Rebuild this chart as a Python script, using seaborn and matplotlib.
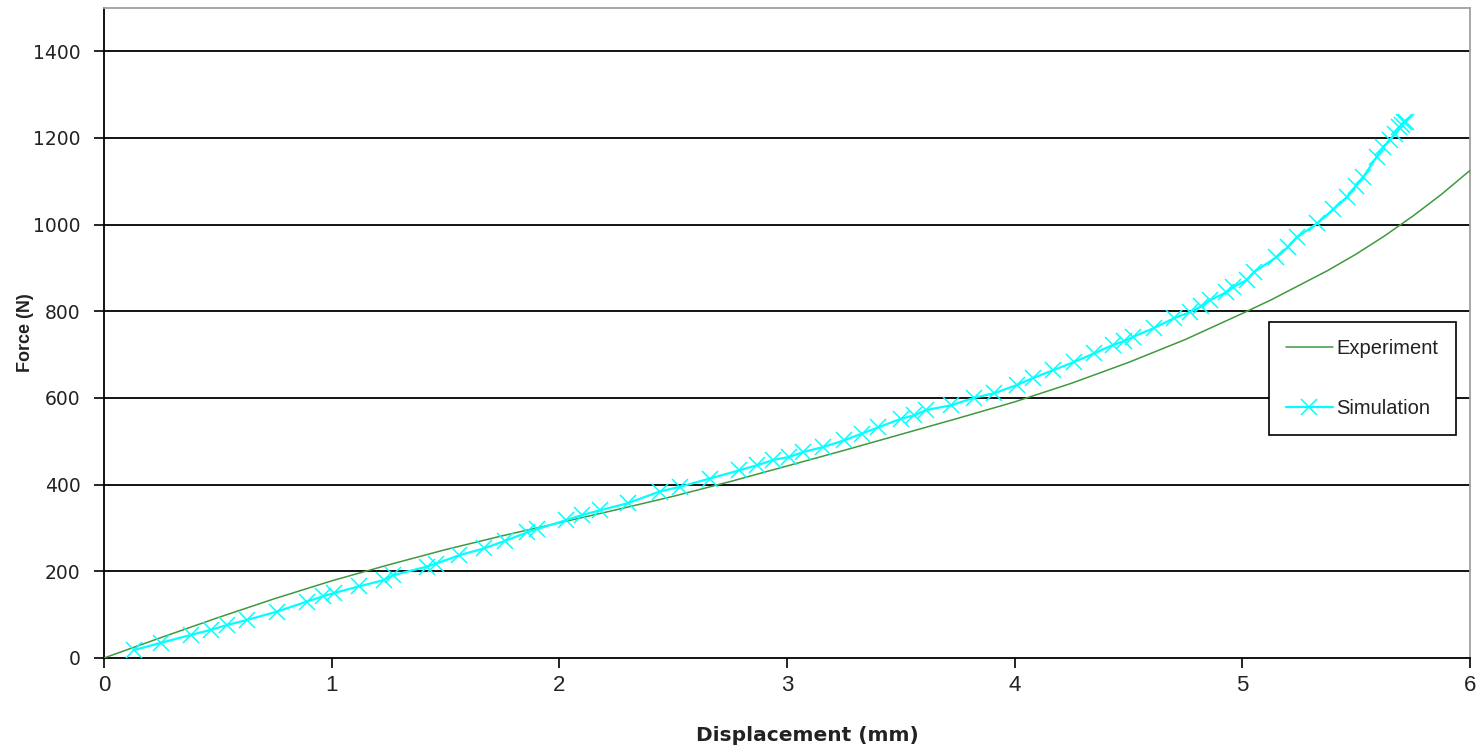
import matplotlib
matplotlib.use("Agg")
import matplotlib.pyplot as plt
import seaborn as sns
import pandas as pd

# Measured force-displacement curve
exp_disp = [0.0, 0.25, 0.5, 0.75, 1.0, 1.25, 1.5, 1.75, 2.0, 2.25, 2.5, 2.75,
            3.0, 3.25, 3.5, 3.75, 4.0, 4.25, 4.5, 4.75, 5.0, 5.125, 5.25, 5.375,
            5.5, 5.625, 5.75, 5.875, 6.0]
exp_force = [0, 47, 93, 137, 178, 215, 250, 282, 312, 342, 373, 407,
             443, 479, 516, 553, 591, 634, 682, 735, 795, 826, 860, 894,
             932, 974, 1020, 1070, 1125]

# Simulated force-displacement samples
sim_disp = [0.13, 0.25, 0.38, 0.47, 0.54, 0.63, 0.76, 0.89, 0.96, 1.01, 1.12, 1.23,
            1.27, 1.42, 1.46, 1.56, 1.67, 1.76, 1.86, 1.90, 2.03, 2.10, 2.18, 2.30,
            2.44, 2.53, 2.66, 2.79, 2.87, 2.94, 3.01, 3.07, 3.16, 3.25, 3.33, 3.40,
            3.50, 3.56, 3.61, 3.72, 3.82, 3.91, 4.01, 4.08, 4.17, 4.26, 4.35, 4.43,
            4.48, 4.52, 4.61, 4.70, 4.77, 4.82, 4.86, 4.93, 4.96, 5.02, 5.05, 5.15,
            5.20, 5.24, 5.33, 5.40, 5.46, 5.50, 5.53, 5.59, 5.62, 5.65, 5.67, 5.69,
            5.70, 5.71, 5.72]
sim_force = [18, 35, 53, 65, 76, 88, 107, 130, 142, 150, 165, 180,
             191, 211, 218, 237, 253, 270, 290, 297, 318, 330, 341, 357,
             384, 395, 414, 433, 445, 457, 464, 475, 487, 502, 518, 532,
             552, 560, 572, 583, 600, 611, 630, 646, 664, 683, 703, 722,
             731, 741, 761, 784, 798, 812, 826, 844, 856, 872, 890, 925,
             948, 971, 1003, 1035, 1064, 1090, 1109, 1156, 1180, 1195, 1210, 1225,
             1230, 1236, 1238]

x_ticks = [0, 1, 2, 3, 4, 5, 6]
y_ticks = [0, 200, 400, 600, 800, 1000, 1200, 1400]

sns.set_theme(style="white")
plt.rcParams["font.family"] = ["Liberation Sans", "DejaVu Sans"]

fig = plt.figure(figsize=(14.8, 7.53), dpi=100)
ax = fig.add_axes([0.0703, 0.1262, 0.9229, 0.8632])

exp_df = pd.DataFrame({"disp": exp_disp, "force": exp_force})
sim_df = pd.DataFrame({"disp": sim_disp, "force": sim_force})

# horizontal grid lines
for yv in y_ticks[1:]:
    ax.axhline(yv, color="black", lw=1.3, zorder=1)

sns.lineplot(data=exp_df, x="disp", y="force", ax=ax, color="#3f9a3f",
             lw=1.1, label="Experiment", zorder=3, estimator=None)
sns.lineplot(data=sim_df, x="disp", y="force", ax=ax, color="#00ffff",
             lw=1.6, marker="x", markersize=11, markeredgewidth=1.1,
             markeredgecolor="#00ffff", label="Simulation", zorder=4,
             estimator=None)

ax.set_xlim(0, 6)
ax.set_ylim(0, 1500)
ax.set_xticks(x_ticks)
ax.set_yticks(y_ticks)
ax.tick_params(axis="both", which="both", direction="out", length=7,
               width=1.2, color="black", labelcolor="#222222",
               left=True, bottom=True)
ax.tick_params(axis="x", pad=5)
ax.tick_params(axis="y", pad=10)
for lbl in ax.get_xticklabels():
    lbl.set_fontfamily("Liberation Sans")
    lbl.set_fontsize(16)
for lbl in ax.get_yticklabels():
    lbl.set_fontfamily("DejaVu Sans")
    lbl.set_fontsize(13.5)

for side in ("left", "bottom"):
    ax.spines[side].set_color("black")
    ax.spines[side].set_linewidth(1.3)
for side in ("top", "right"):
    ax.spines[side].set_color("#a0a0a0")
    ax.spines[side].set_linewidth(1.3)

ax.set_xlabel("Displacement (mm)", fontsize=14.5, fontweight="bold",
              family="DejaVu Sans", color="#222222")
ax.xaxis.set_label_coords(0.515, -0.105)
ax.set_ylabel("Force (N)", fontsize=13, fontweight="bold", color="#222222")
ax.yaxis.set_label_coords(-0.051, 0.5)

leg = ax.legend(loc="upper left", bbox_to_anchor=(0.853, 0.517),
                frameon=True, fancybox=False, prop={"size": 14.5},
                handlelength=2.3, labelspacing=2.05, borderpad=0.85,
                handletextpad=0.2, borderaxespad=0)
leg.get_frame().set_edgecolor("black")
leg.get_frame().set_linewidth(1.2)
leg.get_frame().set_alpha(1)
for t in leg.get_texts():
    t.set_color("#222222")

fig.savefig("out.png", dpi=100)
